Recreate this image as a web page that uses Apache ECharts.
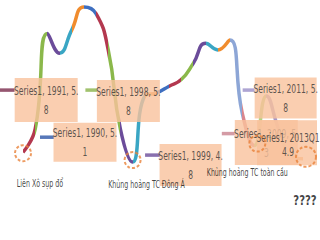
<!DOCTYPE html>
<html><head><meta charset="utf-8">
<script src="https://cdn.jsdelivr.net/npm/echarts@6/dist/echarts.min.js"></script>
<style>html,body{margin:0;padding:0;background:#fff}#c{width:320px;height:240px}</style>
</head><body><div id="c"></div>
<script>
var categories = ['1990','1991','1992','1993','1994','1995','1996','1997','1998','1999','2000','2001','2002','2003','2004','2005','2006','2007','2008','2009','2010','2011','2012','2013Q1'];
var growth = [5.1,5.8,8.7,8.1,8.8,9.5,9.3,8.2,5.8,4.8,6.8,6.9,7.1,7.3,7.8,8.4,8.2,8.5,6.3,5.3,6.8,5.8,5.0,4.9];
var segColors = ['#b3384f','#8bb84b','#6b4c9a','#3aa6c4','#f08c2e','#3f6fc0','#b3384f','#8bb84b','#6b4c9a','#3aa6c4','#f08c2e','#3f6fc0','#b3384f','#8bb84b','#6b4c9a','#3aa6c4','#f08c2e','#8da6d6','#d9868d','#b3d37f','#a597c9','#8fd0e3','#f7b57a'];
// labelled points (category index) with legend-key colours
var labelIdx = [1, 8, 0, 9, 21, 19, 23];
var keyColors = ['#7b2c4c','#8ab34a','#2d56a8','#6b4c9a','#9a8fc8','#c9828f'];
// annotated points
var eventIdx = [0, 9, 19, 23];
var eventText = ['Liên Xô sụp đổ','Khủng hoảng TC Đông Á','Khủng hoảng TC toàn cầu','????'];

// style: box size / offset relative to the data point; layer 1 = drawn in front
var boxStyle = [
  {size:[63,44], off:[11,-29], lh:19, layer:0, tOff:[0,0]},
  {size:[63,42], off:[8,-28], lh:19, layer:0, tOff:[0,0]},
  {size:[63,39], off:[62,-10], lh:19, layer:0, tOff:[0,0]},
  {size:[62,42], off:[58,3], lh:19, layer:0, tOff:[0,0]},
  {size:[62,41], off:[7,-31], lh:19, layer:0, tOff:[0,0]},
  {size:[63,45], off:[12,-3], lh:19, layer:0, tOff:[0,0]},
  {size:[60,45], off:[-16,-16], lh:14, layer:1, tOff:[1,2]}
];
var keyStyle = [
  {size:[15,3.5], off:[-28,-39]},
  {size:[12,3.5], off:[-29,-39]},
  {size:[14,3.5], off:[24,-15]},
  {size:[15,3.5], off:[20,-7]},
  {size:[12,3.5], off:[-30,-39]},
  {size:[13,3.5], off:[-26,-12]}
];
var circleStyle = [
  {size:16, off:[0,1], lab:[17,30]},
  {size:16, off:[0,-2], lab:[14,24]},
  {size:16, off:[3,-2], lab:[-10,29]},
  {size:20, off:[3,-2], lab:[-1,43]}
];

function labelText(i){
  if (categories[i].length > 4) return 'Series1, ' + categories[i] + '\n' + growth[i];
  var s = 'Series1, ' + categories[i] + ', ' + growth[i];
  return s.slice(0, s.length - 1) + '\n' + s.slice(s.length - 1);
}

var pieces = segColors.map(function(c, k){
  return k === 0 ? {gte: 0, lte: 1, color: c} : {gt: k, lte: k + 1, color: c};
});

var FONT = "'DejaVu Sans Condensed','DejaVu Sans',sans-serif";

function boxData(layer){
  var out = [];
  labelIdx.forEach(function(i, k){
    var st = boxStyle[k];
    if (st.layer !== layer) return;
    out.push({value: [i, growth[i]], symbol: 'rect', symbolSize: st.size, symbolOffset: st.off,
      itemStyle: {color: '#f9c29c'},
      label: {show: true, position: 'inside', offset: st.tOff, formatter: labelText(i), color: '#333',
              fontFamily: FONT, fontSize: 13, lineHeight: st.lh, align: 'center'}});
  });
  return out;
}

var chart = echarts.init(document.getElementById('c'), null, {renderer:'svg'});
chart.setOption({
  animation: false,
  grid: {left: 23, right: 17, top: 7, bottom: 68},
  xAxis: {type: 'category', data: categories, boundaryGap: false, show: false},
  yAxis: {type: 'value', min: 4.5, max: 9.5, show: false},
  visualMap: {show: false, type: 'piecewise', dimension: 0, seriesIndex: 0, pieces: pieces},
  series: [
    {type: 'line', data: growth, smooth: 0.5, showSymbol: false, clip: false,
     lineStyle: {width: 3.5}, z: 1},
    {type: 'scatter', z: 2, silent: true,
     data: keyStyle.map(function(st, k){
       var i = labelIdx[k];
       return {value: [i, growth[i]], symbol: 'rect', symbolSize: st.size, symbolOffset: st.off,
               itemStyle: {color: keyColors[k]}};
     })},
    {type: 'scatter', z: 3, silent: true, data: boxData(0)},
    {type: 'scatter', z: 4, silent: true, data: boxData(1)},
    {type: 'scatter', z: 5, silent: true,
     data: eventIdx.map(function(i, k){
       var st = circleStyle[k];
       var last = k === eventIdx.length - 1;
       return {value: [i, growth[i]], symbol: 'circle', symbolSize: st.size, symbolOffset: st.off,
               itemStyle: {color: 'rgba(0,0,0,0)', borderColor: '#e9823a', borderWidth: 2, borderType: [3, 2]},
               label: {show: true, position: 'inside', offset: st.lab, formatter: eventText[k],
                       color: '#111', fontFamily: FONT,
                       fontSize: last ? 14 : 10, fontWeight: last ? 'bold' : 'normal'}};
     })}
  ]
});

// horizontally condense the label text (the reference uses a narrow face)
chart.getZr().refreshImmediately();
Array.prototype.forEach.call(document.querySelectorAll('#c svg text'), function(t){
  var txt = t.textContent;
  var s = txt === '????' ? 0.8 : (/^Series1|^\d/.test(txt) ? 0.65 : 0.7);
  var len = t.getComputedTextLength();
  if (len > 0) {
    t.setAttribute('textLength', (len * s).toFixed(2));
    t.setAttribute('lengthAdjust', 'spacingAndGlyphs');
  }
});
</script></body></html>
